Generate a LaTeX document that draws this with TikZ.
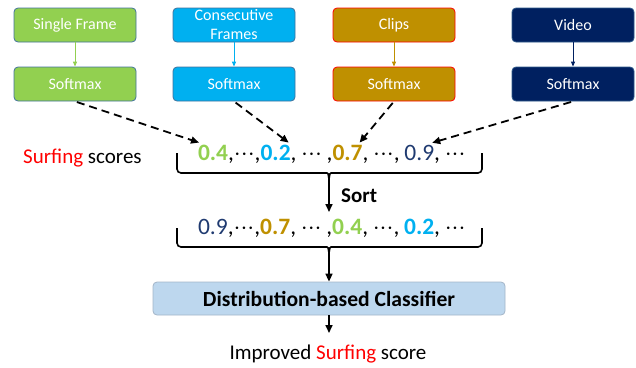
\documentclass[tikz,border=0pt]{standalone}
\usepackage{fontspec}
\setmainfont{Carlito}
\usetikzlibrary{arrows.meta}
\definecolor{cgreen}{HTML}{92D050}
\definecolor{ccyan}{HTML}{00B0F0}
\definecolor{cgold}{HTML}{BF9000}
\definecolor{cnavy}{HTML}{002060}
\definecolor{cnum}{HTML}{1F3A70}
\definecolor{bordblue}{HTML}{41719C}
\definecolor{clfill}{HTML}{BDD7EE}
\definecolor{clbord}{HTML}{A3B5C8}
\definecolor{surf}{HTML}{FF0000}
\newcommand{\dts}{$\mathord{\cdot}\mathord{\cdot}\mathord{\cdot}$}
\newcommand{\hs}{\kern0.2em}
\tikzset{
  srcbox/.style={draw=bordblue, line width=0.8pt, rounded corners=4pt, minimum width=122pt, minimum height=34pt, inner sep=0pt, text=white, font=\fontsize{16}{19}\selectfont, align=center},
  link/.style={line width=1pt, -{Triangle[length=5pt,width=4pt]}},
  dasharr/.style={line width=1.8pt, dash pattern=on 8pt off 5pt, -{Triangle[length=8pt,width=7pt]}, shorten <=2pt},
  arr/.style={line width=1.6pt, -{Triangle[length=8pt,width=7pt]}},
  brk/.style={line width=1.6pt, rounded corners=4pt},
  num/.style={inner sep=0pt, outer sep=0pt, anchor=base west, font=\fontsize{23.5}{27}\selectfont},
  big/.style={inner sep=0pt, font=\fontsize{21}{25}\selectfont}
}
\begin{document}
\begin{tikzpicture}[x=1pt,y=-1pt]
\useasboundingbox (0,0) rectangle (636,367);
% top boxes
\node[srcbox, fill=cgreen] (t1) at (75,25) {Single Frame};
\node[srcbox, fill=ccyan] (t2) at (234,25) {Consecutive\\Frames};
\node[srcbox, fill=cgold, draw=surf] (t3) at (394,25) {Clips};
\node[srcbox, fill=cnavy, draw=bordblue!70!cnavy] (t4) at (573,25) {Video};
\node[srcbox, fill=cgreen] (s1) at (75,84) {Softmax};
\node[srcbox, fill=ccyan] (s2) at (234,84) {Softmax};
\node[srcbox, fill=cgold, draw=surf] (s3) at (394,84) {Softmax};
\node[srcbox, fill=cnavy, draw=bordblue!70!cnavy] (s4) at (573,84) {Softmax};
\draw[link, cgreen] (t1) -- (s1);
\draw[link, ccyan] (t2) -- (s2);
\draw[link, cgold] (t3) -- (s3);
\draw[link, cnavy] (t4) -- (s4);
% row 1
\node[big, anchor=base west] (lab) at (23,163) {\textcolor{surf}{Surfing} scores};
\node[num, text=cgreen] (a1) at (198,160) {\textbf{0.4}};
\node[num] (a2) at (a1.base east) {,\dts,};
\node[num, text=ccyan] (a3) at (a2.base east) {\textbf{0.2}};
\node[num] (a4) at (a3.base east) {,\hs\dts\hs,};
\node[num, text=cgold] (a5) at (a4.base east) {\textbf{0.7}};
\node[num] (a6) at (a5.base east) {,\hs\dts,\hs};
\node[num, text=cnum] (a7) at (a6.base east) {0.9};
\node[num] (a8) at (a7.base east) {,\hs\dts};
\draw[dasharr] (s1.south) -- ([shift={(1,-2)}]a1.north west);
\draw[dasharr] (s2.south) -- ([shift={(-2,-2)}]a3.north east);
\draw[dasharr] (s3.south) -- ([shift={(-3,-2)}]a5.north east);
\draw[dasharr] (s4.south) -- ([shift={(-2,-2)}]a7.north east);
% bracket 1
\coordinate (k1) at (329,179);
\draw[brk] (177,153) -- (177,173) -- (323,173) .. controls (328,173) .. (k1);
\draw[brk] (482,153) -- (482,173) -- (335,173) .. controls (330,173) .. (k1);
\coordinate (e1) at (329,212);
\draw[arr] (k1) -- (e1);
\node[big, anchor=base west, font=\fontsize{21}{25}\selectfont\bfseries] (sort) at (341,202) {Sort};
% row 2
\node[num, text=cnum] (b1) at (198,234) {0.9};
\node[num] (b2) at (b1.base east) {,\dts,};
\node[num, text=cgold] (b3) at (b2.base east) {\textbf{0.7}};
\node[num] (b4) at (b3.base east) {,\hs\dts\hs,};
\node[num, text=cgreen] (b5) at (b4.base east) {\textbf{0.4}};
\node[num] (b6) at (b5.base east) {,\hs\dts,\hs};
\node[num, text=ccyan] (b7) at (b6.base east) {\textbf{0.2}};
\node[num] (b8) at (b7.base east) {,\hs\dts};
% bracket 2
\coordinate (k2) at (329,253);
\draw[brk] (177,228) -- (177,247) -- (323,247) .. controls (328,247) .. (k2);
\draw[brk] (482,228) -- (482,247) -- (335,247) .. controls (330,247) .. (k2);
% classifier
\node[draw=clbord, fill=clfill, line width=0.8pt, rounded corners=4pt, minimum width=352pt, minimum height=33pt, inner sep=0pt, font=\fontsize{21.6}{25}\selectfont\bfseries] (clf) at (329,298.5) {Distribution-based Classifier};
\draw[arr] (k2) -- (clf.north);
\node[big, anchor=base] (imp) at (328,359) {Improved \textcolor{surf}{Surfing} score};
\coordinate (e3) at (329,333);
\draw[arr] (clf.south) -- (e3);
\end{tikzpicture}
\end{document}
